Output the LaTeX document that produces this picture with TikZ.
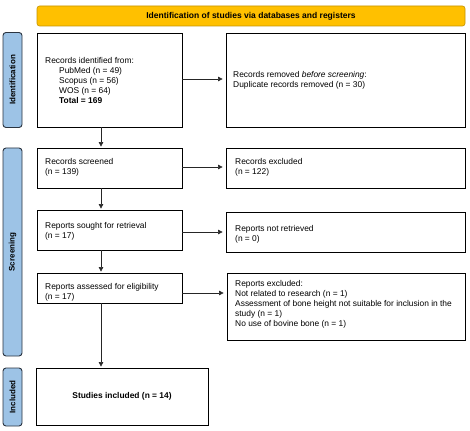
\documentclass[tikz,border=0pt]{standalone}
\usepackage{fontspec}
\setmainfont{Liberation Sans}
\usetikzlibrary{arrows.meta}
\definecolor{bannerfill}{HTML}{FFC000}
\definecolor{bannerline}{HTML}{C49300}
\definecolor{labfill}{HTML}{9DC3E6}
\definecolor{labline}{HTML}{2B3440}
\tikzset{
  box/.style={draw=black, line width=0.8pt, inner sep=0pt, fill=white},
  banner/.style={draw=bannerline, line width=0.6pt, fill=bannerfill, rounded corners=2.5pt, inner sep=0pt},
  sidelab/.style={draw=labline, line width=0.9pt, fill=labfill, rounded corners=3pt, inner sep=0pt},
  txt/.style={inner sep=0pt, align=left, font=\fontsize{8.4}{10}\selectfont},
  labtxt/.style={inner sep=0pt, font=\fontsize{8}{9.7}\selectfont\bfseries, rotate=90},
  arr/.style={-{Triangle[length=4.5pt,width=4.5pt]}, line width=0.6pt, draw=black!85},
}
\begin{document}
\begin{tikzpicture}[x=1pt,y=-1pt]
\useasboundingbox (0,0) rectangle (470,430);
% banner
\node[banner, minimum width=428pt, minimum height=20pt] (ban) at (251,16)
  {\fontsize{8.5}{10}\selectfont\bfseries Identification of studies via databases and registers};
% side labels
\node[sidelab, minimum width=19pt, minimum height=95pt] (labid) at (12.5,80) {};
\node[labtxt] (labidt) at (labid.center) {Identification};
\node[sidelab, minimum width=19pt, minimum height=208pt] (labsc) at (12.5,252) {};
\node[labtxt] (labsct) at (labsc.center) {Screening};
\node[sidelab, minimum width=19pt, minimum height=58pt] (labin) at (12.5,397) {};
\node[labtxt] (labint) at (labin.center) {Included};
% boxes left column
\node[box, minimum width=145pt, minimum height=94pt] (idbox) at (109.5,80) {};
\node[box, minimum width=145pt, minimum height=40pt] (scr) at (109.5,168) {};
\node[box, minimum width=145pt, minimum height=40pt] (sought) at (109.5,230) {};
\node[box, minimum width=145pt, minimum height=30pt] (assess) at (109.5,288) {};
\node[box, minimum width=172pt, minimum height=57pt] (incl) at (122,396.5) {};
% boxes right column
\node[box, minimum width=239pt, minimum height=94pt] (removed) at (345.5,80) {};
\node[box, minimum width=239pt, minimum height=40pt] (excl) at (345.5,168) {};
\node[box, minimum width=239pt, minimum height=40pt] (notret) at (345.5,232) {};
\node[box, minimum width=238pt, minimum height=67pt] (rexcl) at (346,306.5) {};
% texts
\node[txt, anchor=north west] (idtxt) at (45,57) {Records identified from:\\
  \hspace*{14pt}PubMed (n = 49)\\
  \hspace*{14pt}Scopus (n = 56)\\
  \hspace*{14pt}WOS (n = 64)\\
  \hspace*{14pt}\textbf{Total = 169}};
\node[txt, anchor=north west] (remtxt) at (233,71) {Records removed \textit{before screening}:\\
  Duplicate records removed (n = 30)};
\node[txt, anchor=north west] (scrtxt) at (45,158) {Records screened\\(n = 139)};
\node[txt, anchor=north west] (excltxt) at (235,158) {Records excluded\\(n = 122)};
\node[txt, anchor=north west] (soughttxt) at (45,222) {Reports sought for retrieval\\(n = 17)};
\node[txt, anchor=north west] (notrettxt) at (235,225) {Reports not retrieved\\(n = 0)};
\node[txt, anchor=north west] (assesstxt) at (45,283) {Reports assessed for eligibility\\(n = 17)};
\node[txt, anchor=north west] (rexcltxt) at (235,280) {Reports excluded:\\
  Not related to research (n = 1)\\
  Assessment of bone height not suitable for inclusion in the\\
  study (n = 1)\\
  No use of bovine bone (n = 1)};
\node[txt, font=\fontsize{8.4}{10}\selectfont\bfseries] (incltxt) at (incl.center) {Studies included (n = 14)};
% arrows
\draw[arr, shorten >=1pt] (idbox.south -| 101,0) -- (scr.north -| 101,0);
\draw[arr, shorten >=1pt] (scr.south -| 101,0) -- (sought.north -| 101,0);
\draw[arr, shorten >=1pt] (sought.south -| 101,0) -- (assess.north -| 101,0);
\draw[arr, shorten >=1pt] (assess.south -| 101,0) -- (incl.north -| 101,0);
\draw[arr, shorten >=3pt] (idbox.east |- 0,79) -- (removed.west |- 0,79);
\draw[arr, shorten >=3pt] (scr.east |- 0,167) -- (excl.west |- 0,167);
\draw[arr, shorten >=3pt] (sought.east |- 0,232) -- (notret.west |- 0,232);
\draw[arr, shorten >=3pt] (assess.east |- 0,293) -- (rexcl.west |- 0,293);
\end{tikzpicture}
\end{document}
